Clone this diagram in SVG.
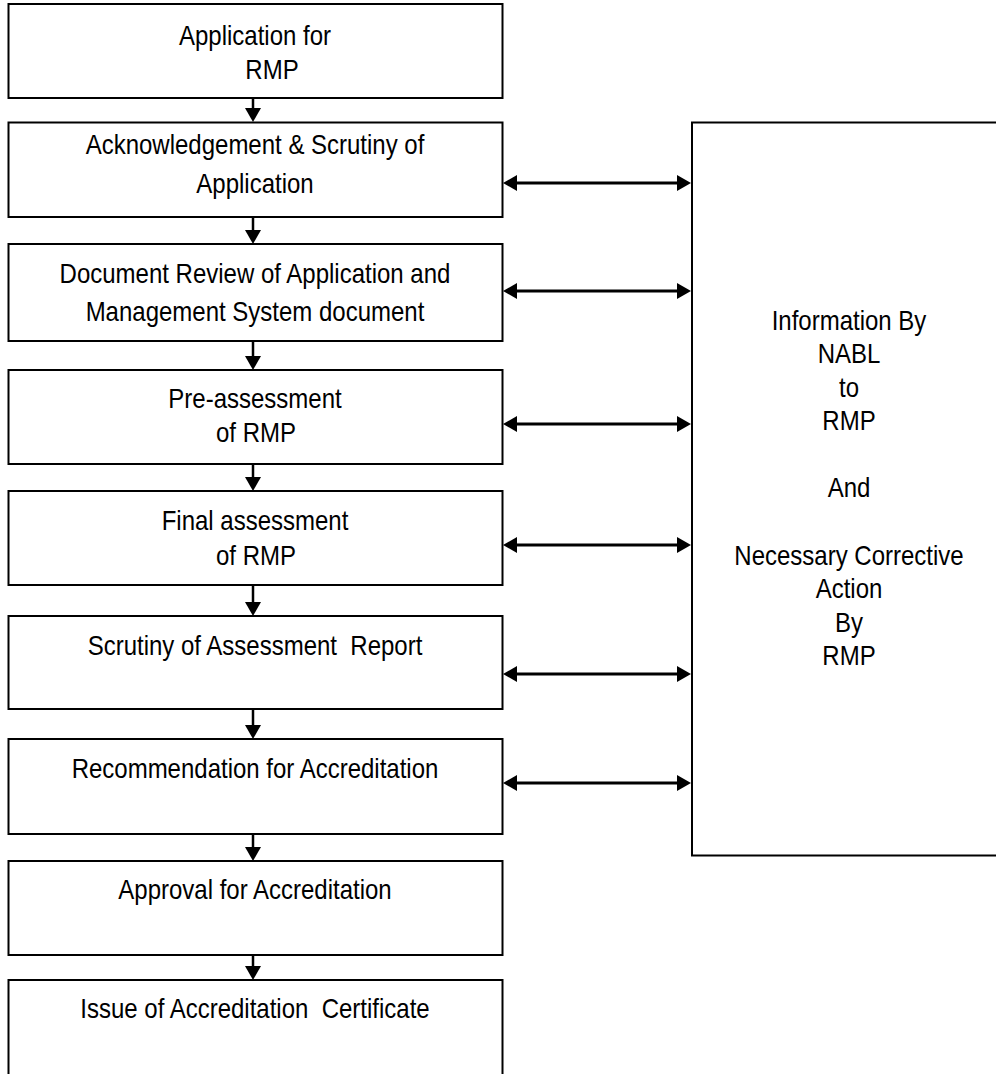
<svg xmlns="http://www.w3.org/2000/svg" width="996" height="1074" viewBox="0 0 996 1074">
<style>
.box{fill:#fff;stroke:#000;stroke-width:2}
.t{font-family:"Liberation Sans",Arial,sans-serif;font-size:27px;fill:#000;text-anchor:middle;transform-box:fill-box;transform-origin:center;transform:scaleX(0.889)}
.v{stroke:#000;stroke-width:2.5;fill:none}
.h{stroke:#000;stroke-width:3;fill:none}
</style>
<defs>
<marker id="ah" viewBox="0 0 14 16" refX="8" refY="8" markerWidth="14" markerHeight="16" markerUnits="userSpaceOnUse" orient="auto-start-reverse">
<path d="M0,0 L14,8 L0,16 z" fill="#000"/>
</marker>
</defs>
<rect width="996" height="1074" fill="#fff"/>
<g id="n1"><rect class="box" x="8.5" y="4" width="494" height="94"/><text class="t" x="255" y="45">Application for</text><text class="t" x="272" y="79">RMP</text></g>
<g id="n2"><rect class="box" x="8.5" y="122.5" width="494" height="94.5"/><text class="t" x="255" y="154">Acknowledgement &amp; Scrutiny of</text><text class="t" x="255" y="193">Application</text></g>
<g id="n3"><rect class="box" x="8.5" y="244" width="494" height="97"/><text class="t" x="255" y="283">Document Review of Application and</text><text class="t" x="255" y="321">Management System document</text></g>
<g id="n4"><rect class="box" x="8.5" y="370" width="494" height="94"/><text class="t" x="255" y="408">Pre-assessment</text><text class="t" x="256" y="442">of RMP</text></g>
<g id="n5"><rect class="box" x="8.5" y="491" width="494" height="94"/><text class="t" x="255" y="530">Final assessment</text><text class="t" x="256" y="565">of RMP</text></g>
<g id="n6"><rect class="box" x="8.5" y="616" width="494" height="93"/><text class="t" x="255" y="655" xml:space="preserve">Scrutiny of Assessment  Report</text></g>
<g id="n7"><rect class="box" x="8.5" y="739" width="494" height="95"/><text class="t" x="255" y="778">Recommendation for Accreditation</text></g>
<g id="n8"><rect class="box" x="8.5" y="861" width="494" height="94"/><text class="t" x="255" y="899">Approval for Accreditation</text></g>
<g id="n9"><rect class="box" x="8.5" y="980" width="494" height="110"/><text class="t" x="255" y="1018" xml:space="preserve">Issue of Accreditation  Certificate</text></g>
<g id="info"><rect class="box" x="692" y="122.5" width="320" height="733"/>
<text class="t" x="849" y="330">Information By</text>
<text class="t" x="849" y="363.5">NABL</text>
<text class="t" x="849" y="397">to</text>
<text class="t" x="849" y="430.5">RMP</text>
<text class="t" x="849" y="497.5">And</text>
<text class="t" x="849" y="565">Necessary Corrective</text>
<text class="t" x="849" y="598.5">Action</text>
<text class="t" x="849" y="632">By</text>
<text class="t" x="849" y="665.5">RMP</text>
</g>
<g id="connectors">
<line class="v" x1="253" y1="98" x2="253" y2="116" marker-end="url(#ah)"/>
<line class="v" x1="253" y1="217" x2="253" y2="238" marker-end="url(#ah)"/>
<line class="v" x1="253" y1="341" x2="253" y2="364" marker-end="url(#ah)"/>
<line class="v" x1="253" y1="464" x2="253" y2="485" marker-end="url(#ah)"/>
<line class="v" x1="253" y1="585" x2="253" y2="610" marker-end="url(#ah)"/>
<line class="v" x1="253" y1="709" x2="253" y2="733" marker-end="url(#ah)"/>
<line class="v" x1="253" y1="834" x2="253" y2="855" marker-end="url(#ah)"/>
<line class="v" x1="253" y1="955" x2="253" y2="974" marker-end="url(#ah)"/>
<line class="h" x1="509" y1="183" x2="685" y2="183" marker-start="url(#ah)" marker-end="url(#ah)"/>
<line class="h" x1="509" y1="291" x2="685" y2="291" marker-start="url(#ah)" marker-end="url(#ah)"/>
<line class="h" x1="509" y1="424" x2="685" y2="424" marker-start="url(#ah)" marker-end="url(#ah)"/>
<line class="h" x1="509" y1="545" x2="685" y2="545" marker-start="url(#ah)" marker-end="url(#ah)"/>
<line class="h" x1="509" y1="674" x2="685" y2="674" marker-start="url(#ah)" marker-end="url(#ah)"/>
<line class="h" x1="509" y1="783" x2="685" y2="783" marker-start="url(#ah)" marker-end="url(#ah)"/>
</g>
</svg>
